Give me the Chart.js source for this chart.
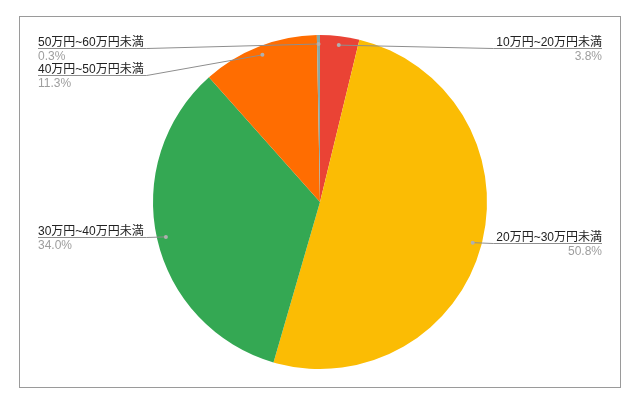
<!DOCTYPE html>
<html>
<head>
<meta charset="utf-8">
<script src="https://cdn.jsdelivr.net/npm/chart.js@4"></script>
<style>
    html, body { margin: 0; padding: 0; background: #fff; }
    #wrap { width: 642px; height: 408px; position: relative; }
</style>
</head>
<body>
<div id="wrap"><canvas id="incomeChart"></canvas></div>
<script>
const categories = ['10万円~20万円未満', '20万円~30万円未満', '30万円~40万円未満', '40万円~50万円未満', '50万円~60万円未満'];
const shares = [3.8, 50.8, 34.0, 11.3, 0.3];

const FONT = '"Liberation Sans", "Noto Sans CJK JP", sans-serif';

// frame + outside labels with leader lines (Google Sheets look)
const calloutPlugin = {
    id: 'callouts',
    beforeDraw(chart) {
        const ctx = chart.ctx;
        ctx.save();
        ctx.strokeStyle = '#9a9a9a';
        ctx.lineWidth = 1;
        ctx.strokeRect(19.5, 16.5, 601, 371);
        ctx.restore();
    },
    afterDraw(chart) {
        const ctx = chart.ctx;
        const arcs = chart.getDatasetMeta(0).data;
        const items = arcs.map(function (arc, i) {
            const mid = (arc.startAngle + arc.endAngle) / 2;
            const r = arc.outerRadius - 9;
            return {
                i: i,
                x: arc.x + Math.cos(mid) * r,
                y: arc.y + Math.sin(mid) * r,
                left: Math.cos(mid) < 0
            };
        });

        const minY = 48, gap = 27;
        [true, false].forEach(function (side) {
            const group = items.filter(it => it.left === side).sort((a, b) => a.y - b.y);
            let last = -Infinity;
            group.forEach(function (it) {
                it.uy = Math.max(it.y, minY, last + gap);
                last = it.uy;
            });
        });

        ctx.save();
        ctx.font = '12px ' + FONT;
        items.forEach(function (it) {
            const label = categories[it.i];
            const pct = shares[it.i].toFixed(1) + '%';
            const w = ctx.measureText(label).width;
            const farX = it.left ? 38 : 602;
            const nearX = it.left ? farX + w + 3 : farX - w - 3;
            const uy = Math.round(it.uy) + 0.5;

            ctx.strokeStyle = '#8e8e8e';
            ctx.lineWidth = 1;
            ctx.beginPath();
            ctx.moveTo(it.x, it.y);
            ctx.lineTo(nearX, uy);
            ctx.lineTo(farX, uy);
            ctx.stroke();

            ctx.fillStyle = '#b0b0b0';
            ctx.beginPath();
            ctx.arc(it.x, it.y, 2, 0, Math.PI * 2);
            ctx.fill();

            ctx.textAlign = it.left ? 'left' : 'right';
            ctx.textBaseline = 'alphabetic';
            ctx.fillStyle = '#222';
            ctx.fillText(label, farX, uy - 3);
            ctx.fillStyle = '#9e9e9e';
            ctx.fillText(pct, farX, uy + 11);
        });
        ctx.restore();
    }
};

function initializeIncomeChart() {
    const canvas = document.getElementById('incomeChart');

    const data = {
        labels: categories,
        datasets: [{
            data: shares,
            backgroundColor: ['#ea4335', '#fbbc04', '#34a853', '#ff6d01', '#8aa9a6'],
            borderWidth: 0
        }]
    };

    const options = {
        responsive: true,
        maintainAspectRatio: false,
        animation: false,
        events: [],
        layout: {
            padding: { top: 35, bottom: 39, left: 100, right: 102 }
        },
        plugins: {
            legend: { display: false },
            tooltip: { enabled: false }
        }
    };

    new Chart(canvas, {
        type: 'pie',
        data: data,
        options: options,
        plugins: [calloutPlugin]
    });
}

window.addEventListener('load', initializeIncomeChart);
</script>
</body>
</html>
